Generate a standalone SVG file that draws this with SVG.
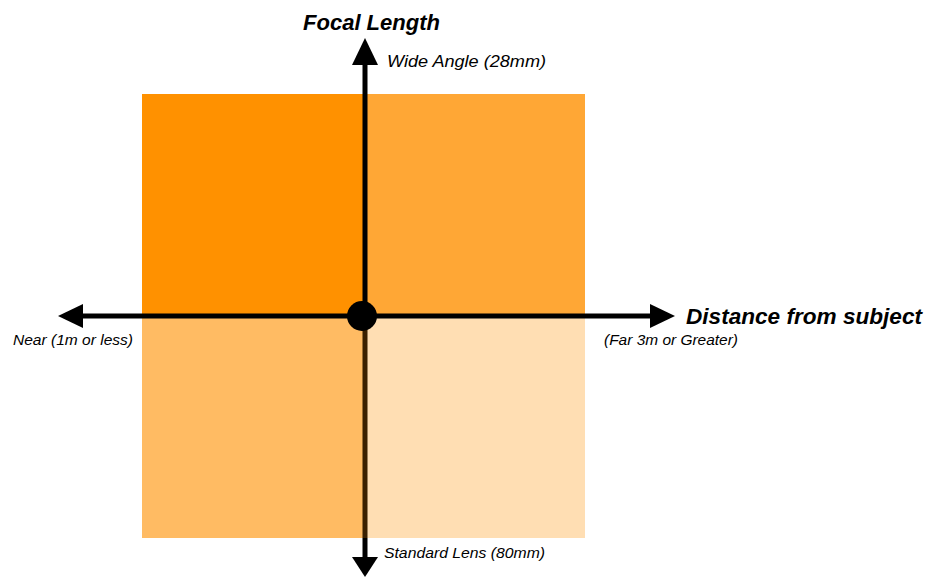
<svg xmlns="http://www.w3.org/2000/svg" width="927" height="577" viewBox="0 0 927 577">
<style>
.title{font-family:"Liberation Sans",Arial,sans-serif;font-weight:bold;font-style:italic;font-size:22px;fill:#000}
.lbl{font-family:"Liberation Sans",Arial,sans-serif;font-style:italic;font-size:15px;fill:#000}
.ax{stroke:#000;stroke-width:5;fill:none}
</style>
<rect width="927" height="577" fill="#fff"/>
<g id="quadrants">
<rect id="q-top-left" x="142" y="94" width="222" height="222" fill="#FF9100"/>
<rect id="q-top-right" x="364" y="94" width="221" height="222" fill="#FFA735"/>
<rect id="q-bottom-left" x="142" y="316" width="222" height="222" fill="#FFBB63"/>
<rect id="q-bottom-right" x="364" y="316" width="221" height="222" fill="#FFDEB3"/>
</g>
<g id="connectors">
<line class="ax" x1="365" y1="60" x2="365" y2="316"/>
<line x1="365" y1="316" x2="365" y2="538" stroke="#3a2000" stroke-width="5"/>
<line class="ax" x1="365" y1="538" x2="365" y2="562"/>
<line class="ax" x1="80" y1="316" x2="655" y2="316"/>
<polygon points="365,38 352,65 378,65" fill="#000"/>
<polygon points="365,577 352,557 378,557" fill="#000"/>
<polygon points="58,316 83,304 83,328" fill="#000"/>
<polygon points="675,316 650,304 650,328" fill="#000"/>
<circle cx="362" cy="316" r="15" fill="#000"/>
</g>
<g id="labels">
<text class="title" x="303" y="30" textLength="137" lengthAdjust="spacingAndGlyphs">Focal Length</text>
<text class="title" x="686" y="324" textLength="236" lengthAdjust="spacingAndGlyphs">Distance from subject</text>
<text class="lbl" x="387" y="67" style="font-size:17px" textLength="159" lengthAdjust="spacingAndGlyphs">Wide Angle (28mm)</text>
<text class="lbl" x="13" y="345" textLength="120" lengthAdjust="spacingAndGlyphs">Near (1m or less)</text>
<text class="lbl" x="604" y="345" textLength="134" lengthAdjust="spacingAndGlyphs">(Far 3m or Greater)</text>
<text class="lbl" x="384" y="558" textLength="161" lengthAdjust="spacingAndGlyphs">Standard Lens (80mm)</text>
</g>
</svg>
